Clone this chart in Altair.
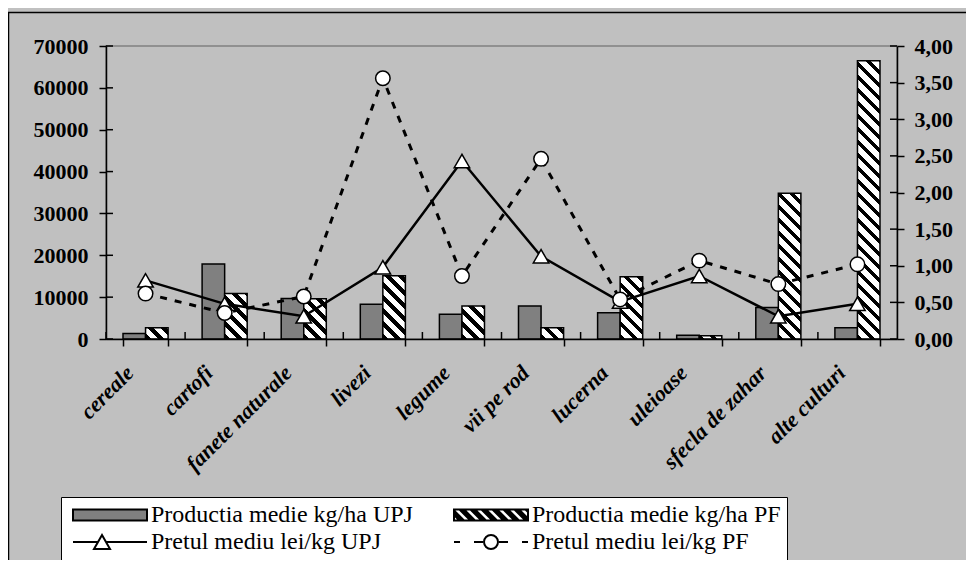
import altair as alt
import pandas as pd

# ---------------- data ----------------
categories = ["cereale", "cartofi", "fanete naturale", "livezi", "legume",
              "vii pe rod", "lucerna", "uleioase", "sfecla de zahar", "alte culturi"]
prod_upj = [1300, 17900, 9700, 8300, 5900, 7900, 6300, 900, 7500, 2700]
prod_pf = [2700, 10900, 9600, 15100, 7900, 2700, 14900, 800, 34800, 66500]
price_upj = [0.80, 0.48, 0.31, 0.98, 2.43, 1.13, 0.51, 0.86, 0.31, 0.48]
price_pf = [0.62, 0.355, 0.58, 3.56, 0.86, 2.46, 0.54, 1.07, 0.75, 1.02]
prod_ticks = [0, 10000, 20000, 30000, 40000, 50000, 60000, 70000]
price_ticks = [0, 0.5, 1.0, 1.5, 2.0, 2.5, 3.0, 3.5, 4.0]
series_keys = ["UPJ", "PF"]
legend_labels = ["Productia medie kg/ha UPJ", "Productia medie kg/ha PF",
                 "Pretul mediu lei/kg UPJ", "Pretul mediu lei/kg PF"]

# ---------------- layout / style ----------------
SERIF = "Liberation Serif"
PLOT_W, PLOT_H = 791, 293
PAD_IN, PAD_OUT = 0.43, 0.215
Y_MAX = 70000
P_MAX = 4
GRAY = "#808080"
TICK = 7

step = PLOT_W / (len(categories) - PAD_IN + 2 * PAD_OUT)
bar_w = step * (1 - PAD_IN) / 2
edge_shift = -step * PAD_IN / 2      # from band start to category boundary (px)


def hatch_gradient(value, period=13.0, black=5.5):
    """Diagonal '\\' stripes for a bar of the given value (fill style only)."""
    w = bar_w
    h = max(value / Y_MAX * PLOT_H, 0.5)
    L = w + h
    a = L * w / (w * w + h * h)
    stops = []
    pos = 0.0
    while pos < L - 1e-9:
        b1 = min(pos + black, L)
        w1 = min(pos + period, L)
        for off, col in ((pos, "black"), (b1, "black"), (b1, "white"), (w1, "white")):
            stops.append(alt.GradientStop(color=col, offset=round(min(max(off / L, 0), 1), 5)))
        pos += period
    return alt.LinearGradient(gradient="linear", stops=stops,
                              x1=0, y1=1, x2=round(a, 6), y2=round(1 - a * h / w, 6))


# ---- legend symbol paths (unit = 5 px) ----
R = 5.0
HW, HH = 37.0, 5.5


def fmt(v):
    return f"{v / R:.3f}".rstrip("0").rstrip(".")


def clip_x(poly, xmin, xmax):
    def clip(pl, inside, inter):
        out = []
        for i in range(len(pl)):
            cur, prev = pl[i], pl[i - 1]
            if inside(cur):
                if not inside(prev):
                    out.append(inter(prev, cur))
                out.append(cur)
            elif inside(prev):
                out.append(inter(prev, cur))
        return out

    def ix(p, q, x):
        t = (x - p[0]) / (q[0] - p[0])
        return (x, p[1] + t * (q[1] - p[1]))

    poly = clip(poly, lambda p: p[0] >= xmin, lambda p, q: ix(p, q, xmin))
    poly = clip(poly, lambda p: p[0] <= xmax, lambda p, q: ix(p, q, xmax))
    return poly


def poly_path(pts):
    return "M" + "L".join(f"{fmt(x)},{fmt(y)}" for x, y in pts) + "Z"


rect_path = poly_path([(-HW, -HH), (HW, -HH), (HW, HH), (-HW, HH)])
hatch_parts = [rect_path]
per, blk = 11.0, 4.5
c = -HW - 2 * HH
while c < HW + 2 * HH:
    c0, c1 = c + blk, c + per
    band = [(c0 - HH, -HH), (c1 - HH, -HH), (c1 + HH, HH), (c0 + HH, HH)]
    cl = clip_x(band, -HW, HW)
    if len(cl) >= 3:
        hatch_parts.append(poly_path(list(reversed(cl))))
    c += per
hatch_path = "".join(hatch_parts)

cx = -8.0
tri_path = (f"M{fmt(-HW)},0H{fmt(cx - 4)}M{fmt(cx + 4)},0H{fmt(HW)}"
            f"M{fmt(cx)},{fmt(-7)}L{fmt(cx + 8)},{fmt(7)}H{fmt(cx - 8)}Z")
circ_path = (f"M{fmt(-37)},0H{fmt(-31)}M{fmt(-17)},0H{fmt(-8)}M{fmt(8)},0H{fmt(17)}M{fmt(31)},0H{fmt(37)}"
             f"M{fmt(7)},0A{fmt(7)},{fmt(7)} 0 1,1 {fmt(-7)},0A{fmt(7)},{fmt(7)} 0 1,1 {fmt(7)},0Z")
legend_paths = [rect_path, hatch_path, tri_path, circ_path]
legend_fills = [GRAY, "black", "white", "white"]
legend_strokes = ["black", "black", "black", "black"]

# ---------------- encodings ----------------
X_SCALE = alt.Scale(domain=categories, paddingInner=PAD_IN, paddingOuter=PAD_OUT)
X_AXIS = alt.Axis(title=None, labelAngle=-45, labelAlign="right", labelBaseline="middle",
                  labelFont=SERIF, labelFontSize=22, labelFontWeight="bold",
                  labelFontStyle="italic", labelOffset=-16, labelPadding=23,
                  labelOverlap=False, labelLimit=400, tickBand="extent",
                  tickSize=TICK, tickWidth=1.5, domainWidth=1.5, zindex=1)
X = alt.X("cat:N", scale=X_SCALE, axis=X_AXIS)
X_START = alt.X("cat:N", scale=X_SCALE, axis=X_AXIS, bandPosition=0)
XOFF = alt.XOffset("serie:N", scale=alt.Scale(domain=series_keys, paddingInner=0, paddingOuter=0))
Y_LEFT = alt.Y("val:Q", scale=alt.Scale(domain=[0, Y_MAX], nice=False),
               axis=alt.Axis(orient="left", title=None, values=prod_ticks, format="d",
                             labelFont=SERIF, labelFontSize=22, labelFontWeight="bold",
                             tickSize=TICK, tickWidth=1.5, domainWidth=1.5, labelPadding=11,
                             grid=False, zindex=1))


def y_right(field):
    return alt.Y(f"{field}:Q", scale=alt.Scale(domain=[0, P_MAX], nice=False),
                 axis=alt.Axis(orient="right", title=None, values=price_ticks,
                               labelExpr="replace(format(datum.value, '.2f'), '.', ',')",
                               labelFont=SERIF, labelFontSize=22, labelFontWeight="bold",
                               tickSize=TICK, tickWidth=1.5, domainWidth=1.5, labelPadding=10,
                               grid=False, zindex=1))


# ---------------- layers ----------------
frame = alt.Chart(alt.Data(values=[{"k": 0}])).mark_rect(
    fillOpacity=0, stroke="black", strokeWidth=1.5
).encode(x=alt.value(-97.5), x2=alt.value(PLOT_W + 200),
         y=alt.value(-33.5), y2=alt.value(PLOT_H + 300))

df_upj = pd.DataFrame({"cat": categories, "serie": "UPJ", "val": prod_upj})
bars_upj = alt.Chart(df_upj).mark_bar(fill=GRAY, stroke="black", strokeWidth=1.5).encode(
    x=X, xOffset=XOFF, y=Y_LEFT)

bars_pf = []
for cat, v in zip(categories, prod_pf):
    d = pd.DataFrame({"cat": [cat], "serie": ["PF"], "val": [v]})
    bars_pf.append(alt.Chart(d).mark_bar(fill=hatch_gradient(v), stroke="black",
                                         strokeWidth=1.5).encode(x=X, xOffset=XOFF, y=Y_LEFT))

# inner halves of the crossing tick marks
ticks_left = alt.Chart(pd.DataFrame({"val": prod_ticks})).mark_rule(
    color="black", strokeWidth=1.5).encode(y=Y_LEFT, x=alt.value(0), x2=alt.value(TICK))
ticks_bottom = alt.Chart(pd.DataFrame({"cat": categories})).mark_rule(
    color="black", strokeWidth=1.5, xOffset=round(edge_shift, 3)
).encode(x=X_START, y=alt.value(PLOT_H - TICK), y2=alt.value(PLOT_H))

bars_group = alt.layer(frame, bars_upj, *bars_pf, ticks_left, ticks_bottom)

df_price = pd.DataFrame({"cat": categories, "upj": price_upj, "pf": price_pf})
ticks_right = alt.Chart(pd.DataFrame({"tick": price_ticks})).mark_rule(
    color="black", strokeWidth=1.5).encode(y=y_right("tick"), x=alt.value(PLOT_W - TICK),
                                           x2=alt.value(PLOT_W))
line_upj = alt.Chart(df_price).mark_line(color="black", strokeWidth=2.5).encode(
    x=X, y=y_right("upj"))
line_pf = alt.Chart(df_price).mark_line(color="black", strokeWidth=3, strokeDash=[7, 8]).encode(
    x=X, y=y_right("pf"))
pts_upj = alt.Chart(df_price).mark_point(shape="triangle-up", size=240, filled=True,
                                         fill="white", stroke="black", strokeWidth=1.5,
                                         opacity=1).encode(x=X, y=y_right("upj"))
pts_pf = alt.Chart(df_price).mark_point(shape="circle", size=210, filled=True,
                                        fill="white", stroke="black", strokeWidth=1.5,
                                        opacity=1).encode(x=X, y=y_right("pf"))

LEG = dict(
    orient="none", legendX=-45, legendY=451, columns=2, direction="horizontal",
    fillColor="white", strokeColor="black", padding=6,
    labelFont=SERIF, labelFontSize=24, labelColor="black", labelLimit=600,
    labelOffset=29, symbolOffset=31, symbolSize=100, symbolStrokeWidth=2,
    symbolOpacity=1, columnPadding=35, rowPadding=3,
)
legend_def = alt.Legend(title=None, **LEG)
df_leg = pd.DataFrame({"serie_leg": legend_labels})
legend_layer = alt.Chart(df_leg).mark_point(filled=True, opacity=0).encode(
    fill=alt.Fill("serie_leg:N", scale=alt.Scale(domain=legend_labels, range=legend_fills),
                  legend=legend_def),
    stroke=alt.Stroke("serie_leg:N", scale=alt.Scale(domain=legend_labels, range=legend_strokes),
                      legend=legend_def),
    shape=alt.Shape("serie_leg:N", scale=alt.Scale(domain=legend_labels, range=legend_paths),
                    legend=legend_def),
)

price_group = alt.layer(ticks_right, line_pf, line_upj, pts_upj, pts_pf, legend_layer)

chart = alt.layer(bars_group, price_group).resolve_scale(y="independent").properties(
    width=PLOT_W, height=PLOT_H,
    padding={"left": 98, "top": 38, "right": 69, "bottom": 221},
    autosize=alt.AutoSizeParams(type="none"),
    background="#c0c0c0",
).configure_view(
    stroke=GRAY, strokeWidth=1.5, fill="white"
).configure_axis(
    labelColor="black", tickColor="black", domainColor="black",
    labelFont=SERIF, labelFontSize=22, labelFontWeight="bold"
).configure_legend(
    **LEG
)

chart.save("out.html", embed_options={"renderer": "svg", "actions": False})
